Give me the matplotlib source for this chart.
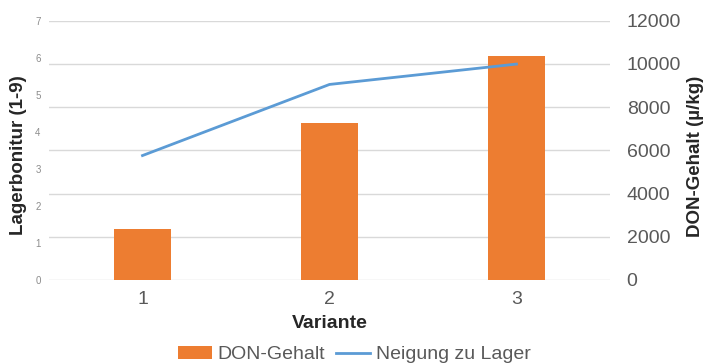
import matplotlib.pyplot as plt

plt.rcParams['font.family'] = ['Liberation Sans', 'DejaVu Sans']

varianten = ['1', '2', '3']
don_gehalt = [2350, 7280, 10370]      # µ/kg, right axis
neigung_lager = [3.36, 5.28, 5.83]    # Lagerbonitur, left axis

x = [1, 2, 3]

fig = plt.figure(figsize=(7.06, 3.64), dpi=100)
ax = fig.add_axes([0.0694, 0.2308, 0.7946, 0.7122])
ax2 = ax.twinx()

# bars on the right axis, line on the left one
ax2.bar(x, don_gehalt, width=0.31, color='#ED7D31', label='DON-Gehalt', zorder=2)
ax.plot(x, neigung_lager, color='#5B9BD5', lw=2, label='Neigung zu Lager', zorder=3)
ax.set_zorder(ax2.get_zorder() + 1)
ax.patch.set_visible(False)

ax.set_xlim(0.5, 3.5)
ax.set_ylim(0, 7)
ax2.set_ylim(0, 12000)
ax.set_yticks(range(0, 8))
ax2.set_yticks(range(0, 12001, 2000))
ax.set_xticks(x)
ax.set_xticklabels(varianten)

# gridlines follow the right axis ticks
ax2.grid(axis='y', color='#d9d9d9', lw=1, zorder=0)
ax2.set_axisbelow(True)

for a in (ax, ax2):
    for s in a.spines.values():
        s.set_visible(False)

ax.tick_params(axis='y', length=0, labelsize=7, labelcolor='#8c8c8c', pad=6)
ax.tick_params(axis='x', length=0, labelsize=14, labelcolor='#595959', pad=8)
ax2.tick_params(axis='y', length=0, labelsize=14, labelcolor='#595959', pad=12)

ax.set_xlabel('Variante', fontsize=14, fontweight='bold', color='#262626', labelpad=5)
ax.set_ylabel('Lagerbonitur (1-9)', fontsize=13.5, fontweight='bold', color='#262626')
ax.yaxis.set_label_coords(-0.039, 0.482)
ax2.set_ylabel('DON-Gehalt (µ/kg)', fontsize=13.5, fontweight='bold', color='#262626')
ax2.yaxis.set_label_coords(1.137, 0.478)

h1, l1 = ax2.get_legend_handles_labels()
h2, l2 = ax.get_legend_handles_labels()
fig.legend(h1 + h2, l1 + l2, loc='center', bbox_to_anchor=(0.502, 0.025), ncol=2,
           frameon=False, fontsize=14, labelcolor='#595959', handlelength=1.75,
           handleheight=0.6, handletextpad=0.3, columnspacing=0.55)

fig.savefig('out.png', dpi=100)
